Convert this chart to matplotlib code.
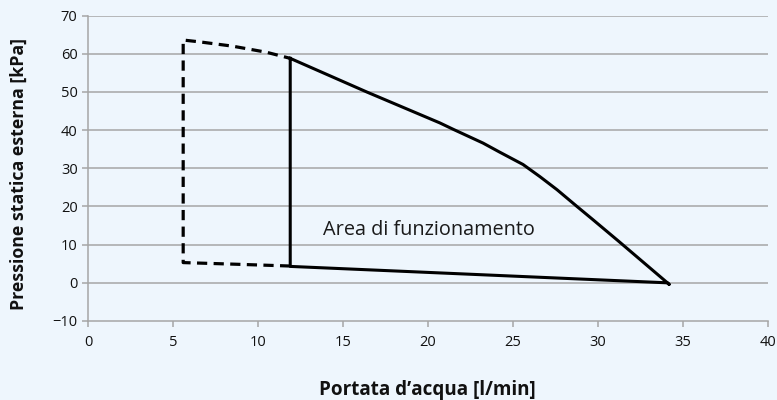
import matplotlib
matplotlib.use('Agg')
import matplotlib.pyplot as plt

# dashed extension (outside operating area)
dash_x = [11.9, 8.5, 5.6, 5.6, 6.6, 8.5, 10.5, 11.9]
dash_y = [4.4, 4.9, 5.3, 63.6, 63.1, 62.0, 60.4, 58.8]

# solid boundary of the operating area
solid_x = [11.9, 16.4, 20.7, 21.5, 23.25, 24.2, 25.6, 26.6, 27.6, 28.75, 29.7, 31.2, 34.1, 34.2, 34.1, 11.9, 11.9]
solid_y = [58.8, 50.0, 41.9, 40.2, 36.6, 34.3, 31.0, 27.8, 24.4, 20.1, 16.6, 11.0, 0.0, -0.4, 0.0, 4.3, 58.8]

x_ticks = [0, 5, 10, 15, 20, 25, 30, 35, 40]
y_ticks = [-10, 0, 10, 20, 30, 40, 50, 60, 70]

bg = '#eef6fd'
grid_col = '#a6a6a6'

plt.rcParams['font.family'] = ['Open Sans', 'DejaVu Sans']

fig = plt.figure(figsize=(7.77, 4.0), dpi=100, facecolor=bg)
ax = fig.add_axes([0.1133, 0.1975, 0.8747, 0.7635])
ax.set_facecolor(bg)

ax.set_xlim(0, 40)
ax.set_ylim(-10, 70)
ax.set_xticks(x_ticks)
ax.set_yticks(y_ticks)

for y in y_ticks[1:]:
    ax.axhline(y, color=grid_col, linewidth=1.1, zorder=1)

ax.plot(dash_x, dash_y, color='black', linewidth=2.3, linestyle=(0, (3.2, 2.0)),
        solid_joinstyle='miter', zorder=3)
ax.plot(solid_x, solid_y, color='black', linewidth=2.2, solid_joinstyle='round', zorder=3)

ax.text(13.8, 12.5, 'Area di funzionamento', fontsize=14.3, color='#1a1a1a',
        ha='left', va='baseline')

for s in ['top', 'right']:
    ax.spines[s].set_visible(False)
ax.spines['left'].set_color(grid_col)
ax.spines['bottom'].set_color(grid_col)
ax.spines['left'].set_linewidth(1.1)
ax.spines['bottom'].set_linewidth(1.1)

ax.tick_params(axis='both', colors=grid_col, labelcolor='#111111', labelsize=10.5,
               length=4, width=1.1)
ax.tick_params(axis='x', pad=6)

ax.set_xlabel('Portata d\u2019acqua [l/min]', fontsize=13.6, fontweight='bold',
              color='#111111', labelpad=22)
ax.set_ylabel('Pressione statica esterna [kPa]', fontsize=12.8, fontweight='bold',
              color='#111111')
ax.yaxis.set_label_coords(-0.088, 0.48)

fig.savefig('out.png', dpi=100, facecolor=bg)
